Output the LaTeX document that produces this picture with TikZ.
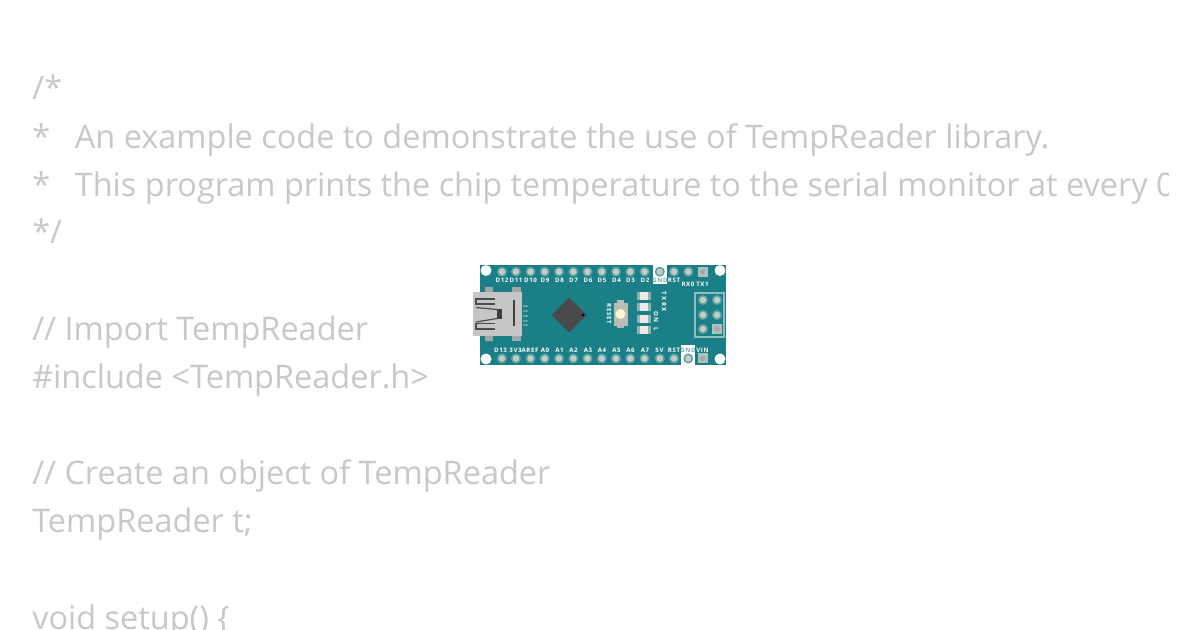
\documentclass[tikz,border=0pt]{standalone}
\usepackage{fontspec}
\setmainfont{Open Sans}
\newfontfamily\pinfont[LetterSpace=10]{Open Sans}
\definecolor{codegray}{HTML}{C8C8C8}
\definecolor{boardteal}{HTML}{1A7F87}
\definecolor{pinring}{HTML}{5FA3A5}
\definecolor{pincore}{HTML}{C6CCC4}
\definecolor{usbgray}{HTML}{C6C6C6}
\definecolor{usbedge}{HTML}{A0A8A6}
\definecolor{chipdark}{HTML}{4A4A4C}
\definecolor{padgray}{HTML}{8FB5B3}
\definecolor{ledcore}{HTML}{F0E8E6}
\definecolor{btnbody}{HTML}{B9BDB6}
\definecolor{btnyellow}{HTML}{FBF6D0}
\definecolor{gndteal}{HTML}{6FAFB2}
\tikzset{
 codeline/.style={anchor=base west,inner sep=0pt,text=codegray,font=\fontsize{24.35}{24}\selectfont},
 pinlabel/.style={inner sep=0pt,text=white,font=\pinfont\fontsize{4.6}{5}\selectfont\bfseries},
 holedot/.style={fill=white,draw=none},
 ledpad/.style={fill=padgray,draw=none},
 ledwhite/.style={fill=ledcore,draw=none},
 usbline/.style={draw=black!70,line width=0.9}
}
\newcommand{\padpin}[2]{\fill[pinring] (#1,#2) circle[radius=5];\fill[pincore] (#1,#2) circle[radius=3.2];}
\newcommand{\sqpin}[2]{\fill[pincore!85!boardteal] (#1-5,#2-5) rectangle (#1+5,#2+5);\fill[gray!70] (#1,#2) circle[radius=2.6];}
\newcommand{\ledpart}[1]{\fill[ledpad] (637,#1-4) rectangle (651,#1+4);\fill[ledwhite] (640,#1-4) rectangle (648,#1+4);}
\begin{document}
\begin{tikzpicture}[x=0.75pt,y=-0.75pt]
\useasboundingbox (0,0) rectangle (1200,630);
\fill[white] (0,0) rectangle (1200,630);
\begin{scope}
\clip (0,0) rectangle (1168,630);
\node[codeline] (l1) at (32,100) {/*};
\node[codeline] (l2) at (32,149) {*\hspace{0.76em}An example code to demonstrate the use of TempReader library.};
\node[codeline] (l3) at (32,197) {*\hspace{0.76em}This program prints the chip temperature to the serial monitor at every 0.5 seconds.};
\node[codeline] (l4) at (32,244) {*/};
\node[codeline] (l5) at (32,341) {// Import TempReader};
\node[codeline] (l6) at (32,389) {\#include <TempReader.h>};
\node[codeline] (l7) at (32,485) {// Create an object of TempReader};
\node[codeline] (l8) at (32,533) {TempReader t;};
\node[codeline] (l9) at (32,629) {void setup() \{};
\end{scope}
% board
\fill[boardteal] (480,265) rectangle (726,365);
\fill[white] (653,265) rectangle (667,284);
\fill[white] (681,345) rectangle (695,365);
\foreach \x/\y in {486/270.5,720/270.5,486/359,720/359} {\fill[holedot] (\x,\y) circle[radius=5.5];}
\foreach \x in {502,516,530.5,544.7,559,573.3,587.5,601.8,616,630.3,644.6,659.8,674,688.3} {\padpin{\x}{271.7}}
\sqpin{702.5}{271.7}
\foreach \x in {502,516,530.5,544.7,559,573.3,587.5,601.8,616,630.3,644.6,659.8,674,688.3} {\padpin{\x}{358.5}}
\sqpin{702.5}{358.5}
% labels
\foreach \x/\t in {502/D12,516/D11,530.5/D10,545/D9,559.5/D8,573.5/D7,588/D6,602/D5,616.5/D4,630.5/D3,645/D2}
  {\node[pinlabel] at (\x,280.2) {\t};}
\node[pinlabel,text=gndteal] at (660,280.2) {GND};
\node[pinlabel] at (674,280.2) {RST};
\node[pinlabel] at (688,284.8) {RX0};
\node[pinlabel] at (702.5,284.8) {TX1};
\foreach \x/\t in {500.5/D13,515.5/3V3,530/AREF,545/A0,559.5/A1,573.5/A2,588/A3,602/A4,616.5/A5,630.5/A6,645/A7,659.5/5V,674/RST,702.5/VIN}
  {\node[pinlabel] at (\x,350) {\t};}
\node[pinlabel,text=gndteal] at (688,350) {GND};
% USB
\fill[usbedge] (485,287) rectangle (493,293);
\fill[usbedge] (512,287) rectangle (521,293);
\fill[usbedge] (485,335) rectangle (493,341);
\fill[usbedge] (512,335) rectangle (521,341);
\foreach \y in {306,311,316,321,325} {\draw[pinring,line width=1.1] (523,\y) -- (528,\y);}
\fill[usbgray] (473,292) rectangle (522,336);
\draw[usbline] (495,299) -- (476,299) -- (476,304) -- (495,304);
\draw[usbline] (476,307.5) -- (497,309.5);
\draw[usbline] (476,322) -- (497,318.5);
\draw[usbline] (495,323.5) -- (476,323.5) -- (476,329) -- (495,329);
\fill[black!75] (497,309) rectangle (502,319);
\draw[black!75,line width=1] (514,300) -- (514,326);
% chip
\fill[chipdark] (569,297.5) -- (586.5,315) -- (569,332.5) -- (551.5,315) -- cycle;
\fill[black] (583,315) circle[radius=1.6];
% reset
\fill[gray!55] (617,300.5) rectangle (624,328.5);
\fill[btnbody] (613.5,303) rectangle (627.5,326);
\fill[btnyellow] (620.5,314) circle[radius=5];
\node[pinlabel,rotate=-90] at (609,314) {RESET};
% LEDs
\ledpart{296}
\ledpart{307}
\ledpart{319}
\ledpart{330}
\node[pinlabel,rotate=-90] at (664,296) {TX};
\node[pinlabel,rotate=-90] at (664,307) {RX};
\node[pinlabel,rotate=-90] at (656,317) {ON};
\node[pinlabel,rotate=-90] at (656,329) {L};
% header
\draw[pinring!70!white,line width=0.8] (695,293) rectangle (724,337);
\foreach \x/\y in {703/300,717/300,703/315,717/315,703/329} {\padpin{\x}{\y}}
\sqpin{717}{329}
\end{tikzpicture}
\end{document}
